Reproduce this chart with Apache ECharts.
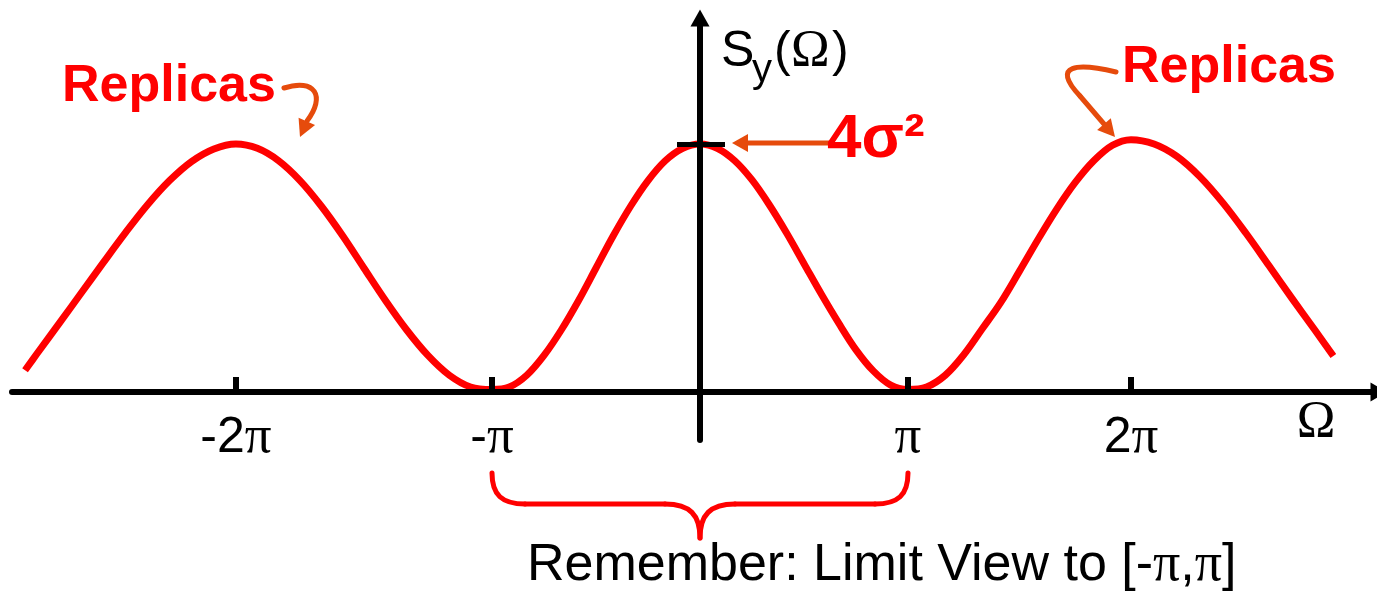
<!DOCTYPE html>
<html>
<head>
<meta charset="utf-8">
<title>S_y(Ω) replicas</title>
<script src="https://cdn.jsdelivr.net/npm/echarts@6/dist/echarts.min.js"></script>
<style>
  html, body { margin: 0; padding: 0; background: #fff; }
  #chart { width: 1377px; height: 595px; }
</style>
</head>
<body>
<div id="chart"></div>
<script>
// Horizontal unit: one π step around the origin (the outer π ticks sit a little off the even grid).
const omega = [
  -3.245, -3.187, -3.080, -2.974, -2.868, -2.762, -2.656, -2.550, -2.443, -2.337, -2.231,
  -2.128, -2.026, -1.923, -1.821, -1.718, -1.616, -1.513, -1.410, -1.308, -1.205, -1.103, -1.000,
  -0.917, -0.833, -0.750, -0.667, -0.583, -0.500, -0.417, -0.333, -0.250, -0.167, -0.083, 0.000,
  0.083, 0.167, 0.250, 0.333, 0.417, 0.500, 0.583, 0.667, 0.750, 0.833, 0.917, 1.000,
  1.089, 1.179, 1.268, 1.357, 1.447, 1.536, 1.625, 1.715, 1.804, 1.893, 1.983, 2.072,
  2.183, 2.293, 2.404, 2.514, 2.625, 2.735, 2.846, 2.956, 3.045
];
// Power spectrum, in units of σ²
const spectrum = [
  0.35, 0.62, 1.11, 1.60, 2.09, 2.57, 3.02, 3.41, 3.72, 3.92, 4.00,
  3.93, 3.73, 3.41, 3.00, 2.52, 2.00, 1.48, 1.00, 0.59, 0.27, 0.08, 0.04,
  0.08, 0.27, 0.59, 1.00, 1.48, 2.00, 2.52, 3.00, 3.41, 3.73, 3.93, 4.00,
  3.93, 3.73, 3.42, 3.02, 2.56, 2.07, 1.58, 1.11, 0.68, 0.34, 0.11, 0.04,
  0.08, 0.27, 0.60, 1.02, 1.45, 1.95, 2.46, 2.95, 3.38, 3.73, 3.98, 4.07,
  4.00, 3.80, 3.47, 3.05, 2.56, 2.04, 1.51, 1.00, 0.58
];
const tickValues = [-2.231, -1, 1, 2.072];
const tickLabels = ['-2π', '-π', 'π', '2π'];
const peakValue = 4;          // 4σ²
const peakLabel = '4σ²';

const SANS = '"Liberation Sans", Arial, sans-serif';
const SERIF = '"Liberation Serif", "Times New Roman", serif';
const RED = '#FF0000';
const ORANGE = '#E64B0C';
const INK = '#000000';

const X_MIN = -3.3077, X_MAX = 3.2644;
const Y_MIN = -0.7742, Y_MAX = 6.0323;

function tickLabel(v) {
  const i = tickValues.findIndex(t => Math.abs(t - v) < 1e-6);
  if (i < 0) return '';
  return tickLabels[i].split('π').map(s => s ? '{s|' + s + '}' : '').join('{p|π}');
}

const chart = echarts.init(document.getElementById('chart'), null, { renderer: 'canvas' });

chart.setOption({
  animation: false,
  backgroundColor: '#ffffff',
  grid: { left: 12, top: 18, width: 1367, bottom: 155, containLabel: false, outerBoundsMode: 'none' },
  xAxis: [
    {
      type: 'value', min: X_MIN, max: X_MAX, z: 5,
      axisLine: { onZero: true, symbol: ['none', 'triangle'], symbolSize: [19, 17],
                  lineStyle: { color: INK, width: 6 } },
      axisTick: { show: true, customValues: tickValues, inside: true, length: 15,
                  lineStyle: { color: INK, width: 6 } },
      axisLabel: {
        customValues: tickValues, margin: -27, formatter: tickLabel,
        rich: {
          s: { fontFamily: SANS, fontSize: 50, lineHeight: 50, color: INK },
          p: { fontFamily: SERIF, fontSize: 53, lineHeight: 50, color: INK }
        }
      },
      splitLine: { show: false }
    },
    {
      // twin of the Ω axis: carries the right half of the 4σ² tick mark
      type: 'value', min: X_MIN, max: X_MAX, show: false,
      axisLine: { onZero: false }
    }
  ],
  yAxis: [
    {
      type: 'value', min: Y_MIN, max: Y_MAX, z: 5, position: 'left',
      axisLine: { onZero: true, symbol: ['none', 'triangle'], symbolSize: [19, 17],
                  lineStyle: { color: INK, width: 6 } },
      axisTick: { show: true, customValues: [peakValue], length: 23,
                  lineStyle: { color: INK, width: 5 } },
      axisLabel: { show: false },
      splitLine: { show: false }
    },
    {
      type: 'value', min: Y_MIN, max: Y_MAX, z: 5, position: 'left',
      axisLine: { show: false, onZero: true, onZeroAxisIndex: 1 },
      axisTick: { show: true, customValues: [peakValue], inside: true, length: 25,
                  lineStyle: { color: INK, width: 5 } },
      axisLabel: { show: false },
      splitLine: { show: false }
    }
  ],
  series: [{
    type: 'line',
    xAxisIndex: 0, yAxisIndex: 0,
    data: omega.map((x, i) => [x, spectrum[i]]),
    smooth: 0.35,
    showSymbol: false,
    silent: true,
    z: 2,
    lineStyle: { color: RED, width: 7, cap: 'butt', join: 'round' }
  }]
});

// ---- annotations -------------------------------------------------------
function head(tip, dir, len, hw) {
  const n = Math.hypot(dir[0], dir[1]);
  const ux = dir[0] / n, uy = dir[1] / n;
  const bx = tip[0] - ux * len, by = tip[1] - uy * len;
  return {
    type: 'polygon', silent: true,
    shape: { points: [[tip[0], tip[1]], [bx - uy * hw, by + ux * hw], [bx + uy * hw, by - ux * hw]] },
    style: { fill: ORANGE }
  };
}
function bez(p0, p1, p2, p3, color, w) {
  return {
    type: 'bezierCurve', silent: true,
    shape: { x1: p0[0], y1: p0[1], cpx1: p1[0], cpy1: p1[1], cpx2: p2[0], cpy2: p2[1], x2: p3[0], y2: p3[1] },
    style: { stroke: color, lineWidth: w, fill: null, lineCap: 'round' }
  };
}
function seg(a, b, color, w) {
  return {
    type: 'line', silent: true,
    shape: { x1: a[0], y1: a[1], x2: b[0], y2: b[1] },
    style: { stroke: color, lineWidth: w, lineCap: 'round' }
  };
}
function txt(x, y, text, font, color, align) {
  return {
    type: 'text', silent: true, x: x, y: y,
    style: { text: text, font: font, fill: color, align: align || 'left', verticalAlign: 'middle' }
  };
}

const px = (x, y) => chart.convertToPixel({ gridIndex: 0 }, [x, y]);
const pk = px(0, peakValue);
const lo = px(-1, 0), hi = px(1, 0), mid = px(0, 0);

// brace under [-π, π]
const bTop = lo[1] + 81, bH = lo[1] + 112, bTip = lo[1] + 146;
const a = lo[0], b = hi[0], c = mid[0];
const brace = [
  bez([a, bTop], [a, bTop + 22], [a + 10, bH], [a + 33, bH], RED, 5),
  seg([a + 33, bH], [c - 35, bH], RED, 5),
  bez([c - 35, bH], [c - 10, bH], [c, bH + 11], [c, bTip], RED, 5),
  bez([c + 35, bH], [c + 10, bH], [c, bH + 11], [c, bTip], RED, 5),
  seg([c + 35, bH], [b - 33, bH], RED, 5),
  bez([b, bTop], [b, bTop + 22], [b - 10, bH], [b - 33, bH], RED, 5)
];

const arrows = [
  // left replica
  bez([284, 88], [315, 78], [326, 96], [307, 121], ORANGE, 5),
  head([300, 137], [-7, 16], 17, 9),
  // right replica
  bez([1116, 72], [1078, 63], [1050, 64], [1080, 96], ORANGE, 5),
  seg([1080, 96], [1104, 124], ORANGE, 5),
  head([1115, 137], [35, 41], 17, 9),
  // peak value
  seg([830, pk[1] - 1], [746, pk[1] - 1], ORANGE, 5),
  head([pk[0] + 32, pk[1] - 1], [-1, 0], 16, 9)
];

const texts = [
  txt(62, 87, 'Replicas', 'bold 52px ' + SANS, RED),
  txt(1122, 68, 'Replicas', 'bold 52px ' + SANS, RED),
  txt(827, 140, peakLabel, 'bold 62px ' + SANS, RED),
  // S_y(Ω)
  txt(721, 52, 'S', '50px ' + SANS, INK),
  txt(752, 71, 'y', '40px ' + SANS, INK),
  txt(774, 52, '(', '50px ' + SANS, INK),
  txt(791, 52, 'Ω', '52px ' + SERIF, INK),
  txt(832, 52, ')', '50px ' + SANS, INK),
  // horizontal axis name
  txt(1316, 423, 'Ω', '52px ' + SERIF, INK, 'center'),
  {
    type: 'text', silent: true, x: 527, y: 566,
    style: {
      text: '{s|Remember: Limit View to [-}{p|π}{s|,}{p|π}{s|]}',
      align: 'left', verticalAlign: 'middle',
      rich: {
        s: { fontFamily: SANS, fontSize: 52, lineHeight: 56, fill: INK, color: INK },
        p: { fontFamily: SERIF, fontSize: 54, lineHeight: 56, fill: INK, color: INK }
      }
    }
  }
];

chart.setOption({ graphic: { elements: brace.concat(arrows, texts) } });
</script>
</body>
</html>
